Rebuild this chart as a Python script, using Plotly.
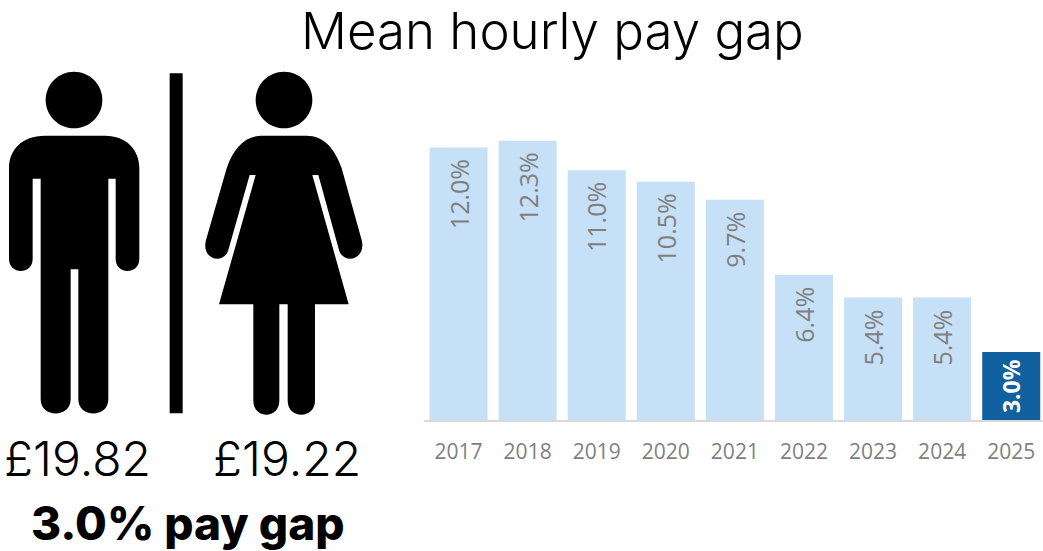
import plotly.graph_objects as go

years = ["2017", "2018", "2019", "2020", "2021", "2022", "2023", "2024", "2025"]
pay_gap = [12.0, 12.3, 11.0, 10.5, 9.7, 6.4, 5.4, 5.4, 3.0]
labels = ["12.0%", "12.3%", "11.0%", "10.5%", "9.7%", "6.4%", "5.4%", "5.4%", "3.0%"]
bar_colors = ["#C5E0F7"] * 8 + ["#1160A0"]
label_colors = ["#7F7F7F"] * 8 + ["#FFFFFF"]
title_text = "Mean hourly pay gap"
male_pay = "£19.82"
female_pay = "£19.22"
gap_text = "3.0% pay gap"

W, H = 1043, 551
FONT = "Inter, Lato, sans-serif"
AXFONT = "'Open Sans', sans-serif"


def px(x):
    return round(x / W, 5)


def py(y):
    return round(1 - y / H, 5)


def zx(x):
    return px(x / 3)


def zy(y):
    return py(60 + y / 3)


def path(cmds):
    out = []
    for c in cmds:
        letter = c[0]
        nums = c[1:]
        pts = [f"{zx(nums[i])},{zy(nums[i + 1])}" for i in range(0, len(nums), 2)]
        out.append(letter + " ".join(pts))
    return " ".join(out) + " Z"


def circle(cx, cy, r):
    k = 0.5523 * r
    return path([
        ("M", cx - r, cy),
        ("C", cx - r, cy - k, cx - k, cy - r, cx, cy - r),
        ("C", cx + k, cy - r, cx + r, cy - k, cx + r, cy),
        ("C", cx + r, cy + k, cx + k, cy + r, cx, cy + r),
        ("C", cx - k, cy + r, cx - r, cy + k, cx - r, cy),
    ])


man = path([
    ("M", 135, 227), ("L", 315, 227),
    ("C", 380, 227, 418, 270, 418, 325),
    ("L", 418, 597), ("C", 418, 645, 347, 645, 347, 597),
    ("L", 347, 356), ("L", 325, 356),
    ("L", 325, 1018), ("C", 325, 1075, 235, 1075, 235, 1018),
    ("L", 235, 628), ("L", 212, 628),
    ("L", 212, 1018), ("C", 212, 1075, 122, 1075, 122, 1018),
    ("L", 122, 356), ("L", 98, 356),
    ("L", 98, 597), ("C", 98, 645, 27, 645, 27, 597),
    ("L", 27, 325), ("C", 27, 270, 65, 227, 135, 227),
])

woman = path([
    ("M", 785, 227), ("L", 920, 227),
    ("C", 970, 227, 1005, 265, 1025, 325),
    ("L", 1085, 540), ("C", 1100, 600, 1030, 615, 1017, 570),
    ("L", 955, 345), ("L", 937, 345),
    ("L", 1046, 733), ("L", 945, 733),
    ("L", 945, 1022), ("C", 945, 1078, 863, 1078, 863, 1022),
    ("L", 863, 733), ("L", 838, 733),
    ("L", 838, 1022), ("C", 838, 1078, 760, 1078, 760, 1022),
    ("L", 760, 733), ("L", 657, 733),
    ("L", 767, 345), ("L", 749, 345),
    ("L", 685, 570), ("C", 672, 615, 602, 600, 618, 540),
    ("L", 680, 325), ("C", 700, 265, 735, 227, 785, 227),
])

divider = path([("M", 509, 40), ("L", 548, 40), ("L", 548, 1060), ("L", 509, 1060)])

shapes = [
    dict(type="path", path=p, xref="paper", yref="paper",
         fillcolor="#000000", line=dict(width=0), layer="above")
    for p in [circle(222, 120, 85), circle(852, 120, 85), man, woman, divider]
]

fig = go.Figure(go.Bar(
    x=years, y=pay_gap, marker=dict(color=bar_colors, line=dict(width=0)),
    width=0.84, hoverinfo="skip",
))

annotations = [
    dict(x=i, y=v, xref="x", yref="y", text=t, textangle=-90, showarrow=False,
         xanchor="center", yanchor="top", yshift=-10 if c != "#FFFFFF" else -5,
         font=dict(family=AXFONT, size=25 if c != "#FFFFFF" else 23, color=c,
                   weight="bold" if c == "#FFFFFF" else "normal"))
    for i, (v, t, c) in enumerate(zip(pay_gap, labels, label_colors))
]


def page_text(text, x, y, size, weight="normal"):
    return dict(x=px(x), y=py(y), xref="paper", yref="paper", text=text, showarrow=False,
                xanchor="center", yanchor="middle",
                font=dict(family=FONT, size=size, color="#000000", weight=weight))


annotations += [
    page_text(title_text, 553, 31, 51, 300),
    page_text(male_pay, 77, 458, 48, 300),
    page_text(female_pay, 287, 458, 48, 300),
    page_text(gap_text, 188, 523, 46, 800),
]

fig.update_layout(
    width=W, height=H, margin=dict(l=0, r=0, t=0, b=0),
    paper_bgcolor="#FFFFFF", plot_bgcolor="#FFFFFF", showlegend=False,
    shapes=shapes, annotations=annotations,
    xaxis=dict(domain=[424 / W, 1], range=[-0.5, 8.46], type="category",
               showline=True, linecolor="#D9D9D9", linewidth=2, showgrid=False,
               zeroline=False, ticks="outside", ticklen=12, tickcolor="rgba(0,0,0,0)",
               tickfont=dict(family=AXFONT, size=21, color="#7F7F7F"),
               anchor="y"),
    yaxis=dict(domain=[1 - 420 / H, 1 - 130 / H], range=[0, 290 / 22.7], visible=False),
)

fig.write_html("out.html", config=dict(displayModeBar=False),
               post_script="document.body.style.margin='0';document.documentElement.style.overflow='hidden';")
